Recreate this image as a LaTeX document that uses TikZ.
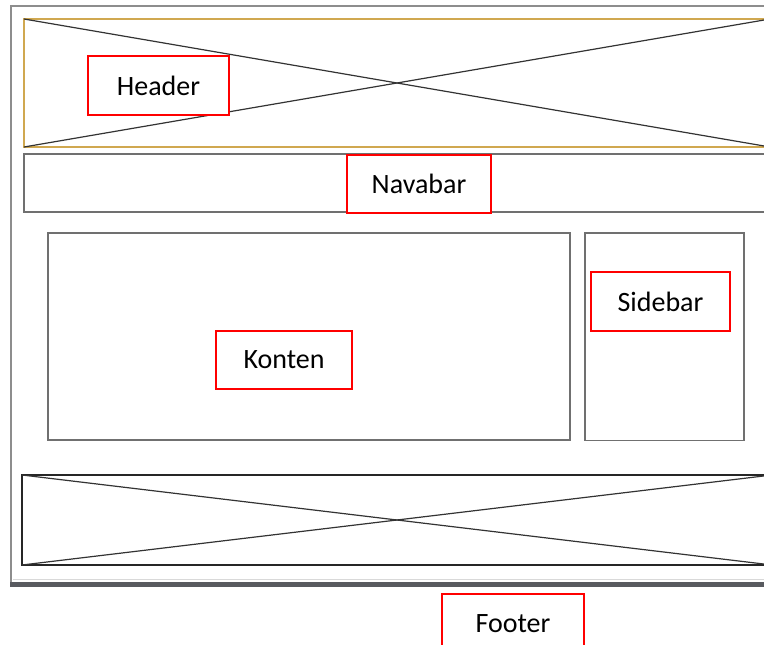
\documentclass[tikz,border=0pt]{standalone}
\usepackage{fontspec}
\setmainfont{Carlito}
\definecolor{gold}{RGB}{208,168,80}
\definecolor{framegray}{RGB}{112,112,112}
\definecolor{bargray}{RGB}{88,90,95}
\begin{document}
\begin{tikzpicture}[x=1pt,y=-1pt,
  box/.style={draw=framegray,line width=1.2pt,inner sep=0pt,outer sep=0pt},
  lbl/.style={draw=red,line width=2pt,inner sep=0pt,font=\fontsize{28}{32}\selectfont,text=black},
  cross/.style={draw=black!80,line width=1.2pt}]
\useasboundingbox (0,0) rectangle (764,645);
\clip (0,0) rectangle (764,645);
% window frame
\draw[framegray!80,line width=1.6pt] (11,582) -- (11,6) -- (800,6);
\fill[bargray] (10,581.5) rectangle (800,587);
\draw[black!15,line width=1pt] (12.5,579) -- (800,579);
% header
\node[box,draw=gold,minimum width=746pt,minimum height=128pt,anchor=north west] (hdr) at (24,19) {};
\draw[cross] (hdr.north west) -- (hdr.south east);
\draw[cross] (hdr.south west) -- (hdr.north east);
% navbar
\node[box,minimum width=760pt,minimum height=58pt,anchor=north west] (nav) at (24,154) {};
% content
\node[box,minimum width=522pt,minimum height=207pt,anchor=north west] (kon) at (48,233) {};
% sidebar
\node[box,minimum width=159pt,minimum height=207.5pt,anchor=north west] (side) at (585,233) {};
% footer
\node[box,draw=black!85,minimum width=750pt,minimum height=90pt,anchor=north west] (ftr) at (22,475) {};
\draw[cross] (ftr.north west) -- (ftr.south east);
\draw[cross] (ftr.south west) -- (ftr.north east);
% labels
\node[lbl,minimum width=141pt,minimum height=59pt,fill=white] (lh) at (158.5,85.5) {Header};
\node[lbl,minimum width=144pt,minimum height=58pt,fill=white] (ln) at (419,184) {Navabar};
\node[lbl,minimum width=136pt,minimum height=58pt,fill=white] (lk) at (284,360) {Konten};
\node[lbl,minimum width=139pt,minimum height=59pt,fill=white] (ls) at (660.5,301.5) {Sidebar};
\node[lbl,minimum width=142pt,minimum height=59pt,fill=white] (lf) at (513,623.5) {Footer};
\end{tikzpicture}
\end{document}
